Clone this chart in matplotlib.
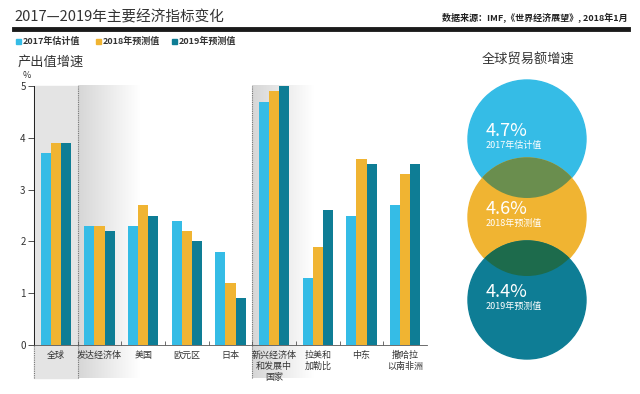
import matplotlib.pyplot as plt
import numpy as np
from matplotlib.patches import Circle, Rectangle
from matplotlib.colors import LinearSegmentedColormap

plt.rcParams['font.family'] = ['Noto Sans CJK SC', 'DejaVu Sans']

# data
regions = ['全球', '发达经济体', '美国', '欧元区', '日本',
           '新兴经济体\n和发展中\n国家', '拉美和\n加勒比', '中东', '撒哈拉\n以南非洲']
est_2017 = [3.7, 2.3, 2.3, 2.4, 1.8, 4.7, 1.3, 2.5, 2.7]
fc_2018 = [3.9, 2.3, 2.7, 2.2, 1.2, 4.9, 1.9, 3.6, 3.3]
fc_2019 = [3.9, 2.2, 2.5, 2.0, 0.9, 5.0, 2.6, 3.5, 3.5]
series_names = ['2017年估计值', '2018年预测值', '2019年预测值']
colors = ['#35bce6', '#f0b432', '#0e7d95']
overlap_colors = ['#6a8e4e', '#1d6b4c']

trade_values = [4.7, 4.6, 4.4]
yticks = [0, 1, 2, 3, 4, 5]

fig = plt.figure(figsize=(6.4, 3.94), dpi=100)
fig.patch.set_facecolor('white')

# header
fig.text(14 / 640, 1 - 17 / 394, '2017—2019年主要经济指标变化', fontsize=10.5,
         color='#333333', va='center', ha='left')
fig.text(628 / 640, 1 - 18 / 394, '数据来源：IMF,《世界经济展望》, 2018年1月', fontsize=6.5,
         color='#222222', va='center', ha='right', fontweight='bold')
fig.add_artist(plt.Line2D([14 / 640, 628 / 640], [1 - 29 / 394] * 2, color='#1a1a1a',
                          linewidth=3.5, transform=fig.transFigure))

# legend
for i, (name, c) in enumerate(zip(series_names, colors)):
    x0 = [16, 96, 172][i] / 640
    fig.add_artist(Rectangle((x0, 1 - 44 / 394), 5 / 640, 5 / 394, color=c,
                             transform=fig.transFigure))
    fig.text(x0 + 7 / 640, 1 - 41.5 / 394, name, fontsize=6.5, fontweight='bold',
             color='#333333', va='center', ha='left')

fig.text(18 / 640, 1 - 62 / 394, '产出值增速', fontsize=9.5, color='#333333', va='center')
fig.text(23 / 640, 1 - 75 / 394, '%', fontsize=6.5, color='#333333', va='center')
fig.text(528 / 640, 1 - 60 / 394, '全球贸易额增速', fontsize=9.5, color='#333333',
         va='center', ha='center')

# bar chart
ax = fig.add_axes([34 / 640, 1 - 345 / 394, 393 / 640, 259 / 394])
x = np.arange(len(regions))
w = 0.23
low = -0.64

# shaded backgrounds
grad = np.linspace(0, 1, 200).reshape(1, -1)
cmap = LinearSegmentedColormap.from_list('g', ['#d6d6d6', '#ffffff'])
ax.add_patch(Rectangle((-0.5, low), 1.0, 5 - low, color='#e4e4e4', zorder=0, clip_on=False))
for start in [0.5, 4.5]:
    im = ax.imshow(grad, extent=(start, start + 1.4, low, 5), aspect='auto',
                   cmap=cmap, zorder=0)
    im.set_clip_on(False)
    ax.plot([start, start], [low, 5], color='#777777', linewidth=0.8,
            linestyle=(0, (1, 1)), clip_on=False, zorder=1)
ax.plot([-0.5, -0.5], [low, 0], color='#777777', linewidth=0.8,
        linestyle=(0, (1, 1)), clip_on=False, zorder=1)

for i, vals in enumerate([est_2017, fc_2018, fc_2019]):
    ax.bar(x + (i - 1) * w, vals, width=w, color=colors[i], zorder=2)

ax.set_xlim(-0.5, 8.5)
ax.set_ylim(0, 5)
ax.set_yticks(yticks)
ax.tick_params(axis='y', labelsize=7, length=4, width=0.6, pad=2, colors='#333333')
ax.set_xticks(np.arange(0.5, 8.5, 1))
ax.set_xticklabels([])
ax.tick_params(axis='x', direction='in', length=3, width=0.6, colors='#555555')
for s in ['top', 'right']:
    ax.spines[s].set_visible(False)
ax.spines['left'].set_linewidth(0.6)
ax.spines['bottom'].set_linewidth(0.6)
ax.spines['bottom'].set_color('#555555')

for xi, name in zip(x, regions):
    ax.text(xi, -0.11, name, ha='center', va='top', fontsize=6.5, color='#333333',
            linespacing=1.3)

# trade circles
ax2 = fig.add_axes([440 / 640, 0, 200 / 640, 1])
ax2.set_xlim(0, 200)
ax2.set_ylim(394, 0)
ax2.set_aspect('equal')
ax2.axis('off')
centers = [(87, 139), (87, 217), (87, 300)]
radius = 59
circles = []
for (cx, cy), c in zip(centers, colors):
    circ = Circle((cx, cy), radius, color=c, zorder=1)
    ax2.add_patch(circ)
    circles.append(circ)
for k in range(2):
    lens = Circle(centers[k + 1], radius, color=overlap_colors[k], zorder=2)
    ax2.add_patch(lens)
    lens.set_clip_path(circles[k])
for (cx, cy), v, name in zip(centers, trade_values, series_names):
    ax2.text(cx - 41, cy - 8, f'{v}%', color='white', fontsize=13, va='center',
             ha='left', zorder=3)
    ax2.text(cx - 41, cy + 6, name, color='white', fontsize=6.5, va='center',
             ha='left', zorder=3)

fig.savefig('out.png', dpi=100)
